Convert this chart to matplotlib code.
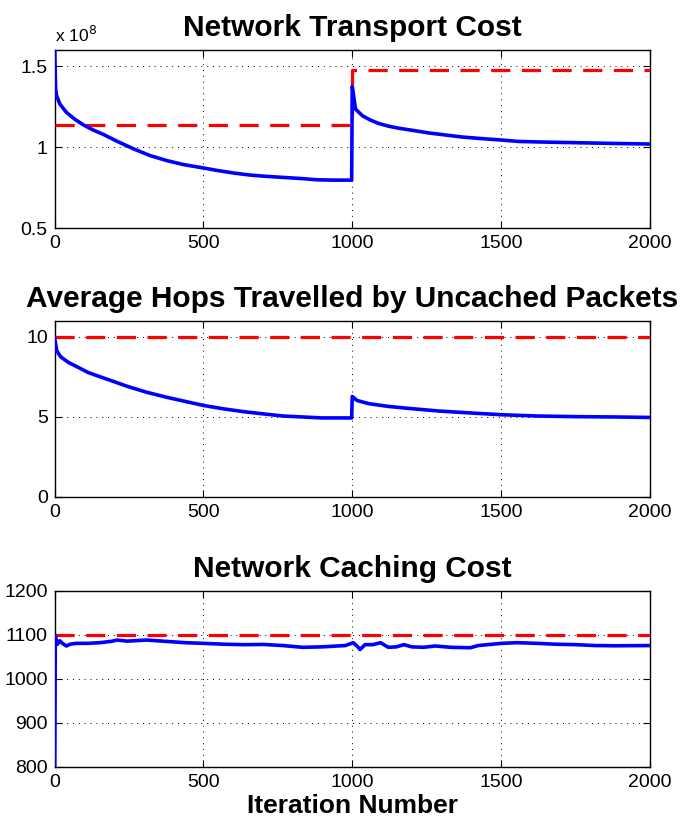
import matplotlib.pyplot as plt
from matplotlib.ticker import FuncFormatter

plt.rcParams['font.family'] = ['Liberation Sans', 'DejaVu Sans']

# ---- data ----
# panel 1: network transport cost (units of 1e8)
cost_iter = [0, 3, 6, 17, 39, 67, 96, 129, 163, 208, 264, 320, 376, 433, 500, 545, 601, 657,
             713, 770, 826, 882, 938, 998,
             1000, 1011, 1034, 1061, 1089, 1123, 1156, 1201, 1257, 1313, 1369, 1425, 1500,
             1559, 1648, 1760, 1872, 2000]
cost_val = [1.60, 1.36, 1.32, 1.267, 1.215, 1.173, 1.1375, 1.106, 1.079, 1.0375, 0.99, 0.948,
            0.917, 0.892, 0.871, 0.856, 0.84, 0.827, 0.819, 0.8125, 0.806, 0.798, 0.796, 0.796,
            1.375, 1.235, 1.194, 1.167, 1.146, 1.129, 1.117, 1.104, 1.0875, 1.075, 1.0625,
            1.054, 1.044, 1.035, 1.031, 1.027, 1.023, 1.019]
cost_val = [v * 1e8 for v in cost_val]
cost_bound_iter = [0, 1000, 1000, 2000]
cost_bound_val = [1.135e8, 1.135e8, 1.475e8, 1.475e8]

# panel 2: average hops of uncached packets
hops_iter = [0, 7, 20, 46, 79, 111, 151, 190, 243, 308, 374, 439, 500, 570, 636, 702, 767,
             833, 898, 998,
             1000, 1016, 1056, 1121, 1187, 1292, 1397, 1502, 1620, 1751, 1882, 2000]
hops_val = [9.9, 9.13, 8.76, 8.41, 8.1, 7.79, 7.52, 7.27, 6.92, 6.55, 6.24, 5.97, 5.72, 5.5,
            5.33, 5.19, 5.06, 5.0, 4.94, 4.94,
            6.28, 6.03, 5.83, 5.66, 5.54, 5.37, 5.25, 5.14, 5.06, 5.02, 5.0, 4.97]
hops_bound_iter = [0, 2000]
hops_bound_val = [10, 10]

# panel 3: network caching cost
cache_iter = [0, 2, 4, 9, 17, 26, 39, 52, 72, 111, 151, 190, 210, 243, 308, 374, 439, 500,
              570, 636, 702, 767, 833, 898, 977, 1003, 1016, 1026, 1043, 1069, 1095, 1121,
              1148, 1174, 1200, 1239, 1279, 1331, 1397, 1423, 1502, 1554, 1620, 1685, 1751,
              1816, 1882, 2000]
cache_val = [800, 1098, 1092, 1079, 1087, 1081, 1075, 1079, 1081, 1081, 1082.5, 1085.5,
             1088.5, 1086, 1088.5, 1085.5, 1082.5, 1081, 1079, 1078, 1078.5, 1076, 1072,
             1073, 1076, 1082.5, 1075, 1067, 1078, 1078, 1082.5, 1072, 1073, 1078, 1073,
             1072, 1075, 1072, 1071, 1076, 1081, 1082.5, 1081, 1079, 1078, 1076, 1075.5, 1076]
cache_bound_iter = [0, 2000]
cache_bound_val = [1100, 1100]

x_ticks = [0, 500, 1000, 1500, 2000]
titles = ["Network Transport Cost",
          "Average Hops Travelled by Uncached Packets",
          "Network Caching Cost"]

fig = plt.figure(figsize=(6.84, 8.19), dpi=100)
ax1 = fig.add_axes([0.080, 0.7216, 0.870, 0.2173])
ax2 = fig.add_axes([0.080, 0.3932, 0.870, 0.2149])
ax3 = fig.add_axes([0.080, 0.0635, 0.870, 0.2149])

dash = (0, (6, 3.6))
panels = [
    (ax1, cost_iter, cost_val, cost_bound_iter, cost_bound_val, (0.5e8, 1.6e8), [0.5e8, 1e8, 1.5e8]),
    (ax2, hops_iter, hops_val, hops_bound_iter, hops_bound_val, (0, 11), [0, 5, 10]),
    (ax3, cache_iter, cache_val, cache_bound_iter, cache_bound_val, (800, 1200), [800, 900, 1000, 1100, 1200]),
]

for (ax, xi, yv, bx, by, ylim, yt), title in zip(panels, titles):
    ax.plot(bx, by, color='#ff0000', lw=2.3, linestyle=dash, zorder=3)
    ax.plot(xi, yv, color='#0000ff', lw=2.6, zorder=4, solid_joinstyle='round')
    ax.set_xlim(0, 2000)
    ax.set_ylim(*ylim)
    ax.set_xticks(x_ticks)
    ax.set_yticks(yt)
    ax.grid(True, color='black', linestyle=(0, (1, 5)), linewidth=0.7)
    ax.tick_params(direction='in', top=True, right=True, length=5, width=0.8,
                   labelsize=14, pad=5)
    for s in ax.spines.values():
        s.set_linewidth(1.0)
    ax.set_title(title, fontsize=21.5, fontweight='bold', pad=10)

ax1.yaxis.set_major_formatter(FuncFormatter(lambda v, _: f"{v / 1e8:g}"))
ax1.text(0.0, 1.03, r"x 10$^{8}$", transform=ax1.transAxes, fontsize=12.5,
         ha='left', va='bottom')

ax3.set_xlabel("Iteration Number", fontsize=19, fontweight='bold', labelpad=2)

plt.savefig("out.png", dpi=100)
